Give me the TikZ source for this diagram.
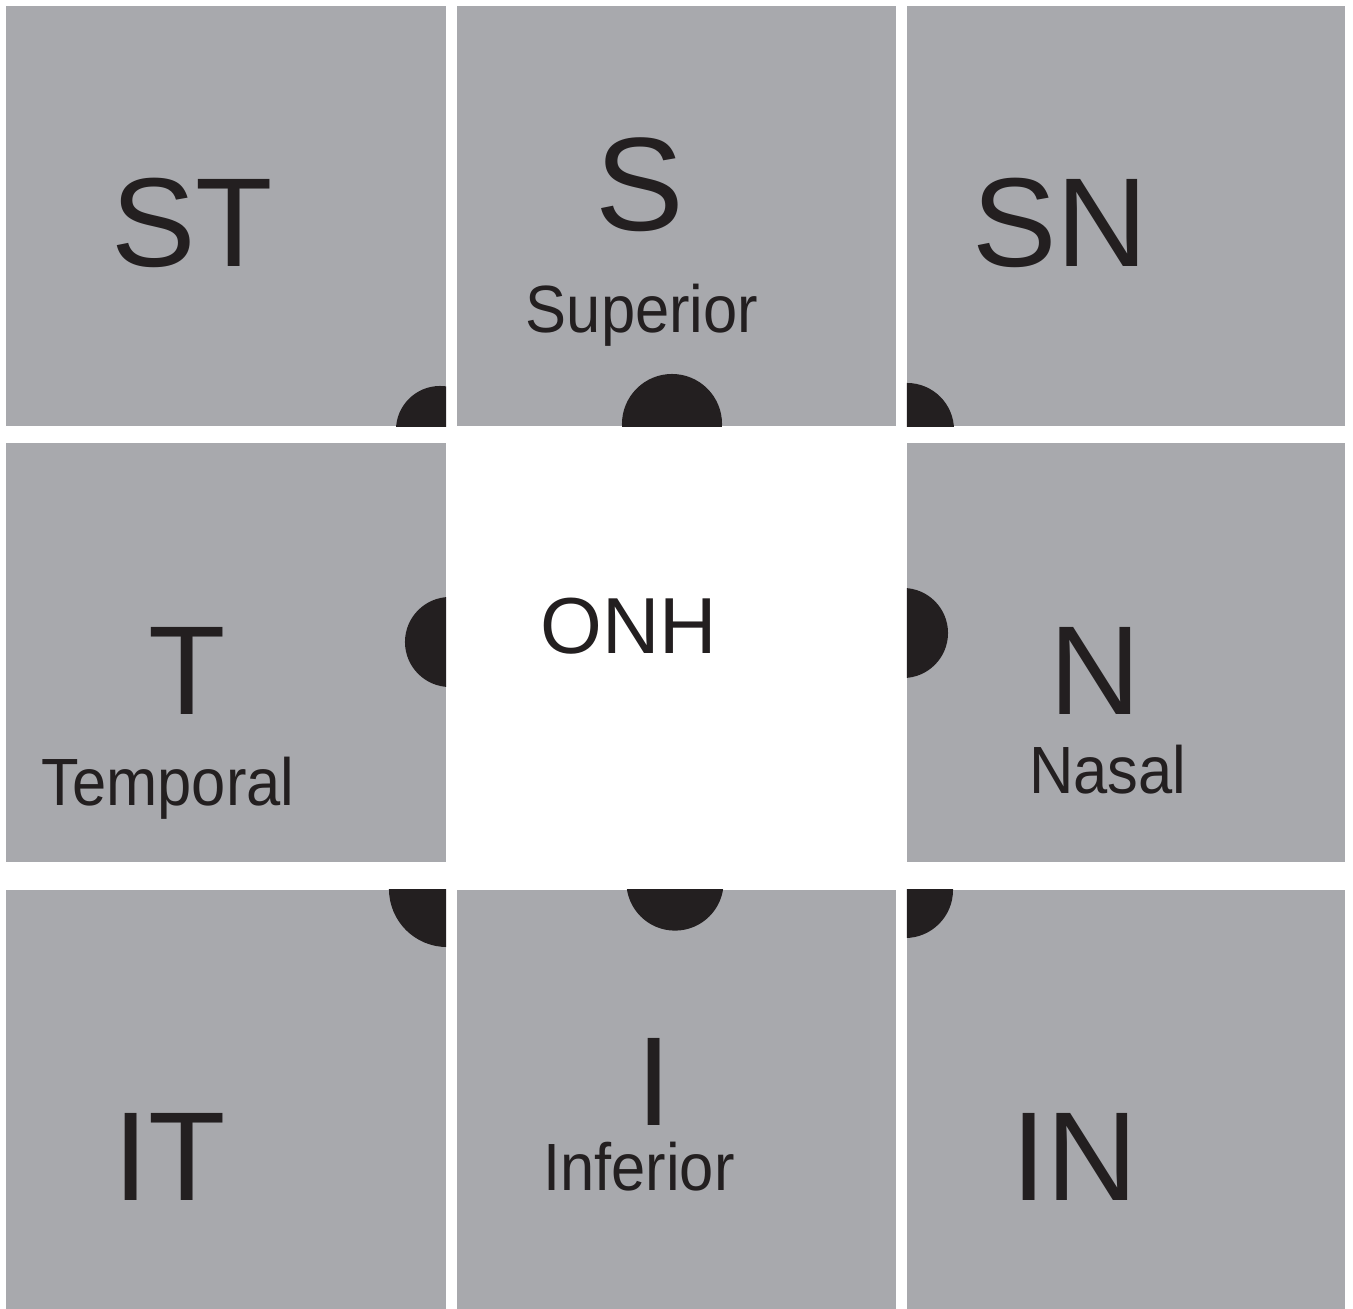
\documentclass[tikz,border=0pt]{standalone}
\usepackage{fontspec}
\setmainfont{Liberation Sans}
\newfontfamily\narrowsans[FakeStretch=0.92]{Liberation Sans}
\usepackage{xcolor}
\definecolor{cellgray}{RGB}{168,169,173}
\definecolor{inkdark}{RGB}{35,31,32}

\begin{document}
\begin{tikzpicture}[
    x=0.01cm, y=-0.01cm,
    cell/.style={
        rectangle,
        fill=cellgray,
        inner sep=0pt,
        outer sep=0pt,
        minimum width=4.4cm,
        minimum height=4.2cm
    },
    dot/.style={
        fill=inkdark
    },
    big/.style={
        anchor=base,
        inner sep=0pt,
        text=inkdark,
        font=\fontsize{36}{40}\selectfont
    },
    label/.style={
        anchor=base,
        inner sep=0pt,
        text=inkdark,
        font=\narrowsans\fontsize{19}{22}\selectfont
    }
]

% =========================================================
% Page
% =========================================================
\fill[white] (0,0) rectangle (1353,1309);
\useasboundingbox (0,0) rectangle (1353,1309);

% =========================================================
% Grey sectors
% =========================================================
\node[cell] (stcell) at (226,216) {};
\node[cell, minimum width=4.39cm] (scell) at (676.5,216) {};
\node[cell, minimum width=4.38cm] (sncell) at (1126,216) {};

\node[cell, minimum height=4.19cm] (tcell) at (226,652.5) {};
\node[cell, minimum width=4.38cm, minimum height=4.19cm] (ncell) at (1126,652.5) {};

\node[cell, minimum height=4.19cm] (itcell) at (226,1099.5) {};
\node[cell, minimum width=4.39cm, minimum height=4.19cm] (icell) at (676.5,1099.5) {};
\node[cell, minimum width=4.38cm, minimum height=4.19cm] (incell) at (1126,1099.5) {};

% =========================================================
% Black dots around the disc, each kept inside its sector
% =========================================================
\begin{scope}
\clip (stcell.north west) rectangle (stcell.south east);
\fill[dot] (440,430) circle[radius=0.44cm];
\end{scope}
\begin{scope}
\clip (scell.north west) rectangle (scell.south east);
\fill[dot] (672,424) circle[radius=0.50cm];
\end{scope}
\begin{scope}
\clip (sncell.north west) rectangle (sncell.south east);
\fill[dot] (907,430) circle[radius=0.47cm];
\end{scope}
\begin{scope}
\clip (tcell.north west) rectangle (tcell.south east);
\fill[dot] (450,642) circle[radius=0.45cm];
\end{scope}
\begin{scope}
\clip (ncell.north west) rectangle (ncell.south east);
\fill[dot] (903,633) circle[radius=0.45cm];
\end{scope}
\begin{scope}
\clip (itcell.north west) rectangle (itcell.south east);
\fill[dot] (447,889) circle[radius=0.58cm];
\end{scope}
\begin{scope}
\clip (icell.north west) rectangle (icell.south east);
\fill[dot] (675,882) circle[radius=0.486cm];
\end{scope}
\begin{scope}
\clip (incell.north west) rectangle (incell.south east);
\fill[dot] (905,890) circle[radius=0.48cm];
\end{scope}

% =========================================================
% Sector names
% =========================================================
\node[big] (st) at (192,266) {ST};
\node[big, font=\fontsize{37.8}{42}\selectfont] (s) at (640,230) {S};
\node[label] (superior) at (642,333) {Superior};
\node[big] (sn) at (1060,266) {SN};

\node[big] (t) at (187,715) {T};
\node[label] (temporal) at (168,805) {Temporal};
\node[big, font=\fontsize{22.6}{26}\selectfont] (onh) at (629,653) {ONH};
\node[big] (n) at (1095,715) {N};
\node[label] (nasal) at (1108,793) {Nasal};

\node[big] (it) at (170,1200) {IT};
\node[big] (i) at (654,1125) {I};
\node[label] (inferior) at (639,1190) {Inferior};
\node[big] (in) at (1075,1200) {IN};

\end{tikzpicture}
\end{document}
